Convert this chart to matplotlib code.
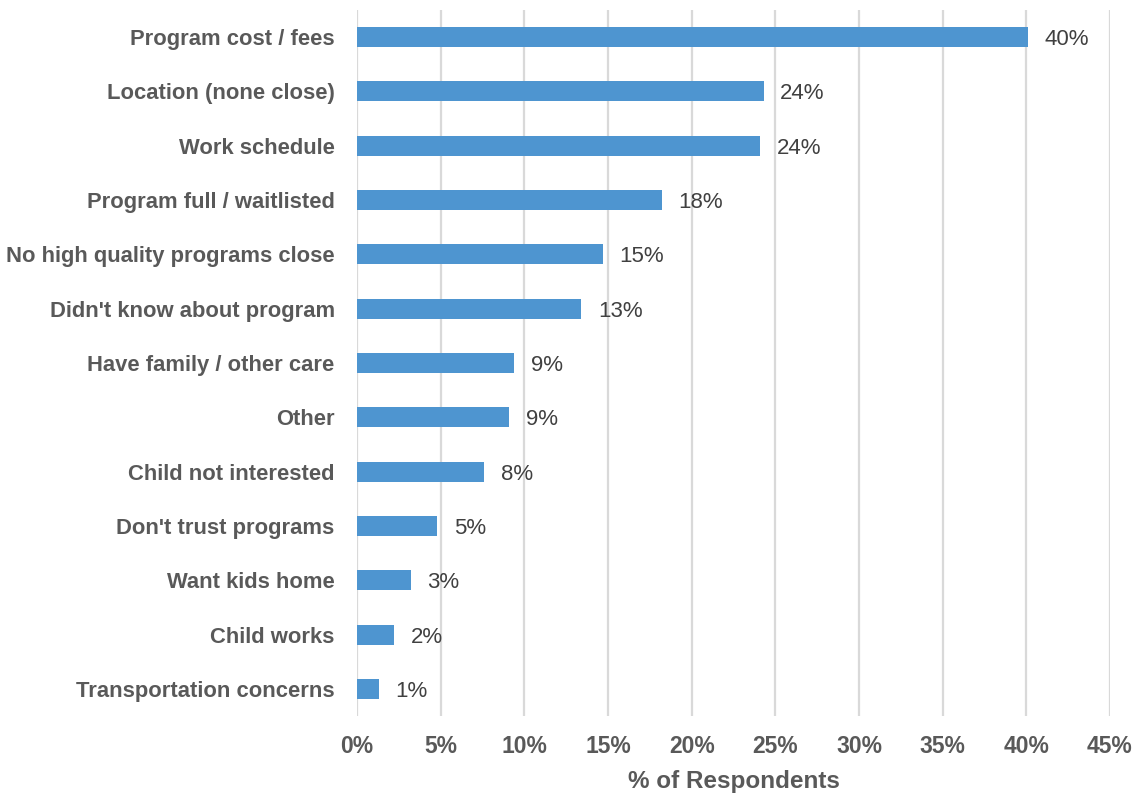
import matplotlib.pyplot as plt

plt.rcParams['font.family'] = ['Liberation Sans', 'DejaVu Sans']

categories = ['Program cost / fees', 'Location (none close)', 'Work schedule',
              'Program full / waitlisted', 'No high quality programs close',
              "Didn't know about program", 'Have family / other care', 'Other',
              'Child not interested', "Don't trust programs", 'Want kids home',
              'Child works', 'Transportation concerns']
values = [40.1, 24.3, 24.1, 18.2, 14.7, 13.4, 9.4, 9.1, 7.6, 4.8, 3.2, 2.2, 1.3]
ticks = [0, 5, 10, 15, 20, 25, 30, 35, 40, 45]

fig = plt.figure(figsize=(11.39, 7.97), dpi=100)
ax = fig.add_axes([0.3134, 0.1016, 0.9745 - 0.3134, 0.9875 - 0.1016])

y = list(range(len(categories)))
ax.barh(y, values, height=0.37, color='#4E95D0', zorder=3)
for yi, v in zip(y, values):
    ax.text(v + 1.0, yi, f'{v:.0f}%', va='center_baseline', ha='left',
            fontsize=16, color='#404040')

ax.set_ylim(len(categories) - 0.5, -0.5)
ax.set_xlim(0, 45)
ax.set_yticks(y)
ax.set_yticklabels(categories, fontsize=15.8, fontweight='bold', color='#595959')
ax.set_xticks(ticks)
ax.set_xticklabels([f'{t}%' for t in ticks], fontsize=16.5, fontweight='bold', color='#595959')
ax.tick_params(length=0, pad=14)
ax.tick_params(axis='y', pad=16)
ax.grid(axis='x', color='#d9d9d9', linewidth=1.6, zorder=0)
for s in ax.spines.values():
    s.set_visible(False)
ax.set_xlabel('% of Respondents', fontsize=17.5, fontweight='bold', color='#595959', labelpad=8)

fig.savefig('out.png', dpi=100)
